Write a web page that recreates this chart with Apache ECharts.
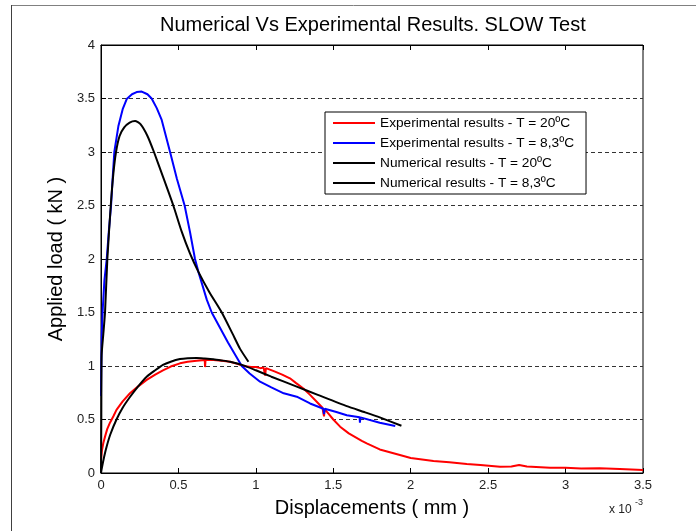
<!DOCTYPE html>
<html>
<head>
<meta charset="utf-8">
<script src="https://cdn.jsdelivr.net/npm/echarts@6/dist/echarts.min.js"></script>
<style>html,body{margin:0;padding:0;background:#fff}#c{width:696px;height:531px}</style>
</head>
<body>
<div id="c"></div>
<script>
// Displacement in units of 1e-3 mm, load in kN
const titleText = 'Numerical Vs Experimental Results. SLOW Test';
const xTicks = [0, 0.5, 1, 1.5, 2, 2.5, 3, 3.5];
const yTicks = [0, 0.5, 1, 1.5, 2, 2.5, 3, 3.5, 4];
const seriesNames = [
  'Experimental results - T = 20ºC',
  'Experimental results - T = 8,3ºC',
  'Numerical results - T = 20ºC',
  'Numerical results - T = 8,3ºC'
];

const exp20 = [[0,0.12],[0.006,0.21],[0.015,0.28],[0.026,0.34],[0.04,0.41],[0.058,0.47],[0.08,0.53],[0.1,0.59],[0.14,0.67],[0.187,0.745],[0.24,0.81],[0.295,0.87],[0.35,0.92],[0.4,0.96],[0.45,0.995],[0.51,1.025],[0.56,1.04],[0.618,1.048],[0.67,1.055],[0.672,0.99],[0.675,1.055],[0.726,1.056],[0.78,1.05],[0.833,1.04],[0.88,1.02],[0.92,1.0],[0.97,0.99],[1.0,0.99],[1.03,0.98],[1.05,0.985],[1.06,0.91],[1.065,0.98],[1.12,0.95],[1.17,0.92],[1.22,0.885],[1.26,0.84],[1.307,0.79],[1.35,0.73],[1.393,0.666],[1.43,0.61],[1.44,0.53],[1.445,0.60],[1.458,0.573],[1.5,0.5],[1.544,0.433],[1.6,0.37],[1.684,0.3],[1.716,0.277],[1.8,0.22],[1.93,0.168],[2.0,0.14],[2.147,0.112],[2.25,0.1],[2.362,0.084],[2.45,0.075],[2.577,0.059],[2.65,0.06],[2.7,0.075],[2.75,0.06],[2.9,0.05],[3.0,0.048],[3.1,0.042],[3.22,0.044],[3.35,0.038],[3.5,0.028]];

const exp83 = [[0,0.72],[0.002,1.0],[0.005,1.3],[0.012,1.55],[0.022,1.8],[0.037,2.0],[0.05,2.25],[0.065,2.5],[0.075,2.75],[0.086,3.0],[0.112,3.24],[0.14,3.4],[0.166,3.495],[0.2,3.54],[0.23,3.56],[0.263,3.565],[0.3,3.54],[0.327,3.5],[0.36,3.41],[0.392,3.3],[0.446,3.0],[0.49,2.75],[0.54,2.5],[0.575,2.25],[0.607,2.0],[0.629,1.88],[0.683,1.62],[0.715,1.5],[0.82,1.22],[0.909,1.0],[0.96,0.93],[1.027,0.853],[1.1,0.8],[1.18,0.745],[1.264,0.713],[1.35,0.65],[1.436,0.6],[1.44,0.55],[1.445,0.6],[1.52,0.57],[1.587,0.54],[1.67,0.52],[1.672,0.47],[1.675,0.52],[1.8,0.47],[1.9,0.44]];

const num20 = [[0,0],[0.006,0.05],[0.02,0.15],[0.037,0.25],[0.06,0.36],[0.1,0.5],[0.14,0.61],[0.187,0.71],[0.24,0.81],[0.295,0.9],[0.35,0.96],[0.4,1.01],[0.45,1.04],[0.51,1.065],[0.56,1.073],[0.618,1.075],[0.67,1.07],[0.726,1.063],[0.78,1.052],[0.833,1.04],[0.92,1.006],[1.0,0.96],[1.1,0.9],[1.264,0.807],[1.4,0.73],[1.587,0.625],[1.7,0.57],[1.8,0.52],[1.94,0.442]];

const num83 = [[0,0],[0.002,0.5],[0.004,1.1],[0.015,1.3],[0.026,1.5],[0.041,2.0],[0.063,2.5],[0.08,2.8],[0.097,3.0],[0.12,3.15],[0.15,3.23],[0.185,3.275],[0.22,3.29],[0.255,3.26],[0.3,3.15],[0.342,3.0],[0.4,2.77],[0.467,2.5],[0.52,2.26],[0.575,2.05],[0.629,1.88],[0.7,1.69],[0.78,1.5],[0.85,1.3],[0.898,1.16],[0.952,1.04]];

const FONT = '"Liberation Sans", Arial, Helvetica, sans-serif';
const chart = echarts.init(document.getElementById('c'), null, {renderer: 'canvas'});

function lineSeries(name, data, color, smooth) {
  return {
    name: name, type: 'line', data: data, symbol: 'none', smooth: smooth,
    xAxisIndex: 0, yAxisIndex: 0,
    lineStyle: {color: color, width: 2}, itemStyle: {color: color},
    animation: false
  };
}

const baseX = {
  type: 'value', min: xTicks[0], max: xTicks[xTicks.length - 1], interval: 0.5,
  axisLine: {show: true, onZero: false, lineStyle: {color: '#000', width: 1}},
  axisTick: {show: true, inside: true, length: 5, lineStyle: {color: '#000'}},
  splitLine: {show: false}
};

chart.setOption({
  animation: false,
  backgroundColor: '#fff',
  textStyle: {fontFamily: FONT},
  title: {
    text: titleText, left: 155, top: 10,
    textStyle: {fontFamily: FONT, fontSize: 20, fontWeight: 'normal', color: '#000'}
  },
  legend: {
    orient: 'vertical', left: 325, top: 112,
    backgroundColor: '#fff', borderColor: '#000', borderWidth: 1,
    padding: [4, 12, 4, 8], itemWidth: 42, itemHeight: 12, itemGap: 6,
    textStyle: {fontFamily: FONT, fontSize: 13.7, color: '#000'},
    data: seriesNames.map(n => ({name: n, icon: 'path://M0,5 L42,5 L42,7 L0,7 Z'}))
  },
  grid: {left: 101, top: 45, right: 53, bottom: 58, show: true, borderColor: '#000', borderWidth: 1, backgroundColor: '#fff'},
  xAxis: [
    Object.assign({}, baseX, {
      position: 'bottom',
      name: 'Displacements ( mm )', nameLocation: 'middle', nameGap: 25,
      nameTextStyle: {fontFamily: FONT, fontSize: 20, color: '#000'},
      axisLabel: {color: '#222', fontSize: 13, margin: 6, fontFamily: FONT}
    }),
    Object.assign({}, baseX, {position: 'top', axisLabel: {show: false}})
  ],
  yAxis: [{
    type: 'value', min: yTicks[0], max: yTicks[yTicks.length - 1], interval: 0.5,
    name: 'Applied load ( kN )', nameLocation: 'middle', nameGap: 34,
    nameTextStyle: {fontFamily: FONT, fontSize: 20, color: '#000'},
    axisLine: {show: true, lineStyle: {color: '#000', width: 1}},
    axisTick: {show: true, inside: true, length: 5, lineStyle: {color: '#000'}},
    axisLabel: {color: '#222', fontSize: 13, margin: 6, fontFamily: FONT},
    splitLine: {show: true, lineStyle: {color: '#333', width: 1, type: [4, 3]}}
  }],
  series: [
    lineSeries(seriesNames[0], exp20, '#ff0000', false),
    lineSeries(seriesNames[1], exp83, '#0000ff', false),
    lineSeries(seriesNames[2], num20, '#000000', 0.2),
    lineSeries(seriesNames[3], num83, '#000000', 0.2)
  ],
  graphic: [
    {type: 'line', shape: {x1: 11, y1: 5.5, x2: 696, y2: 5.5}, style: {stroke: '#808080', lineWidth: 1}, silent: true},
    {type: 'line', shape: {x1: 11.5, y1: 5, x2: 11.5, y2: 531}, style: {stroke: '#404040', lineWidth: 1}, silent: true},
    {type: 'text', left: 609, top: 504, style: {text: 'x 10', fontFamily: FONT, fontSize: 12, fill: '#222'}},
    {type: 'text', left: 635, top: 498, style: {text: '-3', fontFamily: FONT, fontSize: 9, fill: '#222'}}
  ]
});
</script>
</body>
</html>
